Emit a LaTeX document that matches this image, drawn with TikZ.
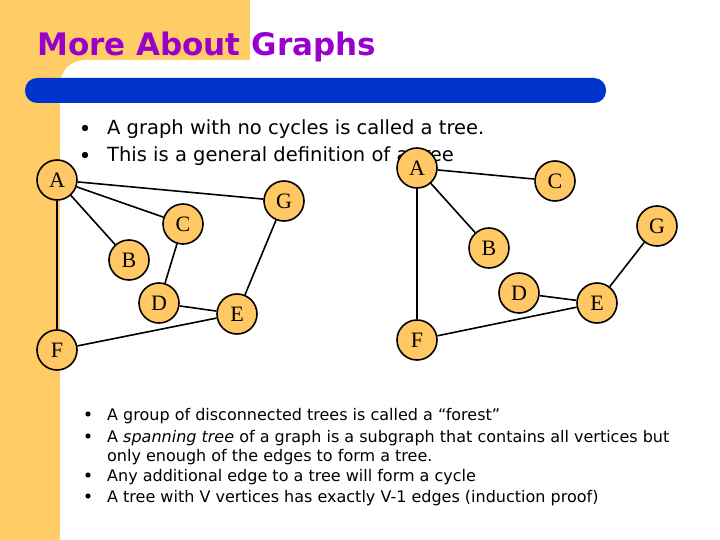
\documentclass[tikz,border=0pt]{standalone}
\usepackage{fontspec}
\setmainfont{DejaVu Sans}
\newfontfamily\serifnodes{Liberation Serif}
\begin{document}
\begin{tikzpicture}[x=1pt,y=-1pt,
  vtx/.style={circle,draw=black,line width=1.6pt,fill=nodeorange,minimum size=40pt,inner sep=0pt,font=\serifnodes\fontsize{22}{22}\selectfont},
  edge/.style={line width=1.6pt},
  topline/.style={anchor=base west,inner sep=0pt,font=\fontsize{19.5}{19.5}\selectfont},
  botline/.style={anchor=base west,inner sep=0pt,font=\fontsize{16}{16}\selectfont}]
\definecolor{bgorange}{RGB}{255,204,102}
\definecolor{nodeorange}{RGB}{255,200,100}
\definecolor{titlepurple}{RGB}{153,0,204}
\definecolor{barblue}{RGB}{0,51,204}
\useasboundingbox (0,0) rectangle (720,540);
\fill[white] (0,0) rectangle (720,540);
\fill[bgorange] (0,0) rectangle (250,60);
\fill[bgorange] (0,0) rectangle (60,540);
\fill[bgorange] (60,60) rectangle (85,85);
\fill[white] (60,85) arc[start angle=180,end angle=270,radius=25] -- (85,60) -- (250,60) -- (250,540) -- (60,540) -- cycle;
\fill[white] (250,0) rectangle (720,60);
\fill[barblue,rounded corners=12pt] (25,78) rectangle (606,103);
\node[anchor=base west,text=titlepurple,font=\bfseries\fontsize{31}{31}\selectfont,inner sep=0pt] (title) at (37,56) {More About Graphs};
% top bullets
\node[topline] (t1) at (107,135) {A graph with no cycles is called a tree.};
\node[topline] (t2) at (107,162) {This is a general definition of a tree};
\fill (85,128) circle (3.2pt);
\fill (85,155) circle (3.2pt);
% left graph
\node[vtx] (A) at (57,180) {A};
\node[vtx] (G) at (284,201) {G};
\node[vtx] (C) at (183,224) {C};
\node[vtx] (B) at (129,260) {B};
\node[vtx] (D) at (159,303) {D};
\node[vtx] (E) at (237,314) {E};
\node[vtx] (F) at (57,350) {F};
\draw[edge] (A) -- (G);
\draw[edge] (A) -- (C);
\draw[edge] (A) -- (B);
\draw[edge] (A) -- (F);
\draw[edge] (C) -- (D);
\draw[edge] (G) -- (E);
\draw[edge] (D) -- (E);
\draw[edge] (F) -- (E);
% right graph
\node[vtx] (A2) at (417,168) {A};
\node[vtx] (C2) at (555,181) {C};
\node[vtx] (G2) at (657,226) {G};
\node[vtx] (B2) at (489,248) {B};
\node[vtx] (D2) at (519,293) {D};
\node[vtx] (E2) at (597,303) {E};
\node[vtx] (F2) at (417,340) {F};
\draw[edge] (A2) -- (C2);
\draw[edge] (A2) -- (B2);
\draw[edge] (A2) -- (F2);
\draw[edge] (D2) -- (E2);
\draw[edge] (E2) -- (G2);
\draw[edge] (F2) -- (E2);
% bottom bullets
\foreach \yy in {414,436,475,496} \fill (88,\yy) circle (2.6pt);
\node[botline] (b1) at (107,420) {A group of disconnected trees is called a “forest”};
\node[botline] (b2) at (107,442) {A \textit{spanning tree} of a graph is a subgraph that contains all vertices but};
\node[botline] (b3) at (107,461) {only enough of the edges to form a tree.};
\node[botline] (b4) at (107,481) {Any additional edge to a tree will form a cycle};
\node[botline] (b5) at (107,502) {A tree with V vertices has exactly V-1 edges (induction proof)};
\end{tikzpicture}
\end{document}
